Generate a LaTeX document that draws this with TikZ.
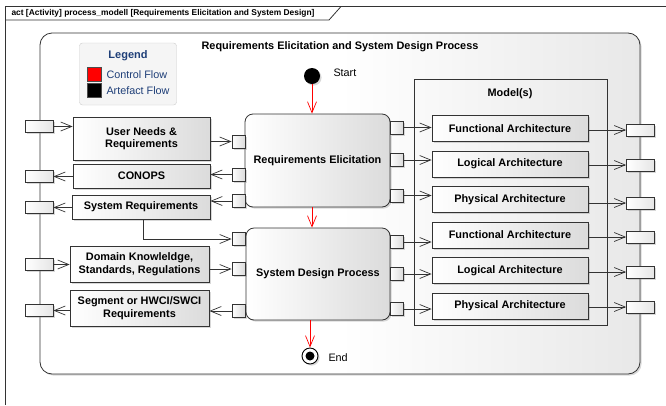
\documentclass[tikz,border=0pt]{standalone}
\usepackage{fontspec}
\setmainfont{Liberation Sans}
\usetikzlibrary{arrows.meta,shadows}
\definecolor{legendblue}{HTML}{1F3F78}
\definecolor{edge}{HTML}{333333}
\begin{document}
\begin{tikzpicture}[x=1pt,y=-1pt,
  reg/.style={font=\fontsize{10.8}{12.5}\selectfont},
  lbl/.style={font=\fontsize{10.9}{12.5}\selectfont\bfseries},
  shade/.style={drop shadow={shadow xshift=1.6pt,shadow yshift=-1.6pt,opacity=.3}},
  box/.style={draw=edge,line width=.8pt,inner sep=0pt,align=center,left color=white,right color=gray!28,shade,lbl},
  action/.style={box,rounded corners=8pt},
  inpin/.style={box,minimum width=13pt,minimum height=13pt},
  edgepin/.style={box,minimum width=28pt,minimum height=12pt,right color=gray!20},
  model/.style={box,minimum width=156pt,minimum height=26pt},
  flow/.style={-{Straight Barb[length=11pt,width=9pt]},line width=.7pt,draw=edge},
  ctrl/.style={flow,draw=red}]
\fill[white] (0,0) rectangle (666,405);
\useasboundingbox (0,0) rectangle (666,405);

\draw[edge,line width=.8pt] (5,405) -- (5,6.5) -- (666,6.5);
\draw[edge,line width=.8pt] (5,20) -- (329,20) -- (341,6.5);
\node[anchor=west,font=\fontsize{8.4}{10}\selectfont\bfseries] (frametab) at (8,13.5)
  {act [Activity] process\_modell [Requirements Elicitation and System Design]};

\node[draw=edge,line width=.8pt,rounded corners=12pt,minimum width=600pt,minimum height=341pt,
  left color=white,right color=gray!18,middle color=white,shade] (act) at (340,203.5) {};
\node[lbl] (title) at (340,46.5) {Requirements Elicitation and System Design Process};

% legend
\node[draw=gray!40,fill=gray!8,rounded corners=3pt,minimum width=97pt,minimum height=62pt] (legend) at (128,74) {};
\node[font=\fontsize{11}{13}\selectfont\bfseries,text=legendblue] (legendttl) at (128,55.5) {Legend};
\node[draw=black!70,fill=red,minimum size=14pt,inner sep=0pt] (ctrlkey) at (94,74.5) {};
\node[draw=black!70,fill=black,minimum size=14pt,inner sep=0pt] (artkey) at (94,90.5) {};
\node[reg,anchor=west,text=legendblue] (ctrllbl) at (103,74.5) {Control Flow};
\node[reg,anchor=west,text=legendblue] (artlbl) at (103,90.5) {Artefact Flow};

\node[circle,fill=black,minimum size=16pt,inner sep=0pt,shade] (start) at (312,76) {};
\node[reg,anchor=west] (startlbl) at (330,72.5) {Start};
\node[circle,draw=black,line width=.9pt,fill=white,minimum size=16pt,inner sep=0pt,shade] (end) at (310,356) {};
\node[circle,fill=black,minimum size=9pt,inner sep=0pt] (enddot) at (end) {};
\node[reg,anchor=west] (endlbl) at (325,357.5) {End};

% inputs and outputs
\node[box,minimum width=137pt,minimum height=43pt] (needs) at (141.5,138.5) {User Needs \&\\Requirements};
\node[box,minimum width=137pt,minimum height=24pt] (conops) at (141.5,176) {CONOPS};
\node[box,minimum width=138pt,minimum height=24pt] (sysreq) at (141,207) {System Requirements};
\node[box,minimum width=139pt,minimum height=36pt] (domain) at (139.5,264) {Domain Knowleldge,\\Standards, Regulations};
\node[box,minimum width=139pt,minimum height=36pt] (segment) at (139.5,308) {Segment or HWCI/SWCI\\Requirements};

\node[edgepin] (lp1) at (39,126.5) {};
\node[edgepin] (lp2) at (39,176.5) {};
\node[edgepin] (lp3) at (39,207.5) {};
\node[edgepin] (lp4) at (39,264.5) {};
\node[edgepin] (lp5) at (39,310.5) {};

% actions
\node[action,minimum width=145pt,minimum height=93pt] (elicit) at (317.5,160.5) {Requirements Elicitation};
\node[action,minimum width=144pt,minimum height=92pt] (design) at (318,274) {System Design Process};

\node[inpin] (el1) at (238.5,141.5) {};
\node[inpin] (el2) at (238.5,174.5) {};
\node[inpin] (el3) at (238.5,201) {};
\node[inpin] (er1) at (396.5,127.5) {};
\node[inpin] (er2) at (396.5,160) {};
\node[inpin] (er3) at (396.5,195.5) {};
\node[inpin] (dl1) at (238.5,239) {};
\node[inpin] (dl2) at (238.5,269) {};
\node[inpin] (dl3) at (238.5,311) {};
\node[inpin] (dr1) at (396.5,242) {};
\node[inpin] (dr2) at (396.5,274) {};
\node[inpin] (dr3) at (396.5,309) {};

% models
\node[draw=edge,line width=.8pt,minimum width=193pt,minimum height=246pt,inner sep=0pt] (models) at (510.5,202) {};
\node[lbl] (modelslbl) at (510,93.5) {Model(s)};
\node[model] (func1) at (510,128.5) {Functional Architecture};
\node[model] (logic1) at (510,164) {Logical Architecture};
\node[model] (phys1) at (510,199.5) {Physical Architecture};
\node[model] (func2) at (510,235) {Functional Architecture};
\node[model] (logic2) at (510,270.5) {Logical Architecture};
\node[model] (phys2) at (510,306) {Physical Architecture};

\node[edgepin] (rp1) at (640.5,130) {};
\node[edgepin] (rp2) at (640.5,165) {};
\node[edgepin] (rp3) at (640.5,203) {};
\node[edgepin] (rp4) at (640.5,237) {};
\node[edgepin] (rp5) at (640.5,272) {};
\node[edgepin] (rp6) at (640.5,307) {};

% control flow
\draw[ctrl] (start) -- (start |- elicit.north);
\draw[ctrl] (elicit.south -| start) -- (design.north -| start);
\draw[ctrl] (design.south -| end) -- (end);

% artefact flow
\draw[flow] (lp1) -- (lp1 -| needs.west);
\draw[flow] (needs.east |- el1) -- (el1);
\draw[flow] (el2) -- (el2 -| conops.east);
\draw[flow] (conops.west |- lp2) -- (lp2);
\draw[flow] (el3) -- (el3 -| sysreq.east);
\draw[flow] (sysreq.west |- lp3) -- (lp3);
\draw[flow] ([xshift=2pt]sysreq.south) |- (dl1);
\draw[flow] (lp4) -- (lp4 -| domain.west);
\draw[flow] (domain.east |- dl2) -- (dl2);
\draw[flow] (dl3) -- (dl3 -| segment.east);
\draw[flow] (segment.west |- lp5) -- (lp5);

\draw[flow] (er1) -- (er1 -| func1.west);
\draw[flow] (er2) -- (er2 -| logic1.west);
\draw[flow] (er3) -- (er3 -| phys1.west);
\draw[flow] (dr1) -- (dr1 -| func2.west);
\draw[flow] (dr2) -- (dr2 -| logic2.west);
\draw[flow] (dr3) -- (dr3 -| phys2.west);

\draw[flow] (func1.east |- rp1) -- (rp1);
\draw[flow] (logic1.east |- rp2) -- (rp2);
\draw[flow] (phys1.east |- rp3) -- (rp3);
\draw[flow] (func2.east |- rp4) -- (rp4);
\draw[flow] (logic2.east |- rp5) -- (rp5);
\draw[flow] (phys2.east |- rp6) -- (rp6);
\end{tikzpicture}
\end{document}
